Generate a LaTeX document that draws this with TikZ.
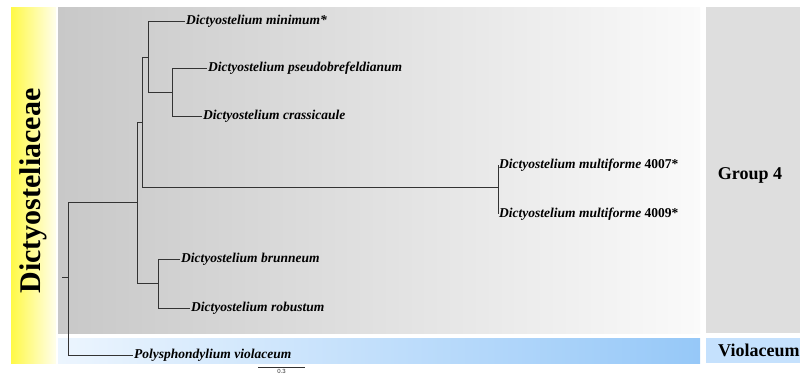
\documentclass[tikz,border=0pt]{standalone}
\usepackage{fontspec}
\setmainfont{Liberation Serif}
\newfontfamily\barfont{Liberation Sans}
\usepackage{tikz}
\usetikzlibrary{calc,positioning}
\usepackage{xcolor}
\definecolor{myyellow}{RGB}{255,249,70}
\definecolor{mycream}{RGB}{255,254,236}
\definecolor{mygray}{RGB}{200,200,200}
\definecolor{mywhite}{RGB}{250,250,250}
\definecolor{mypanel}{RGB}{222,222,222}
\definecolor{myblue}{RGB}{150,200,248}
\definecolor{mypale}{RGB}{236,245,254}
\definecolor{myviolet}{RGB}{197,225,253}

\tikzset{
  taxon/.style={anchor=west, inner sep=1pt, font=\fontsize{13.5}{16}\selectfont\bfseries\itshape},
  branch/.style={line width=0.7pt, black!80},
  group/.style={font=\fontsize{18}{21}\selectfont\bfseries},
}

\begin{document}
\begin{tikzpicture}[x=1pt,y=-1pt]
  \useasboundingbox (0,0) rectangle (800,378);

  % Bands
  \shade[left color=myyellow, right color=mycream] (11,7) rectangle (56,363);
  \shade[left color=mygray, right color=mywhite] (58,7) rectangle (700,333);
  \shade[left color=mypale, right color=myblue] (58,338) rectangle (700,363);
  \fill[mypanel] (706,7) rectangle (800,333);
  \fill[myviolet] (706,338) rectangle (800,363);

  \node[rotate=90, font=\fontsize{30}{34}\selectfont\bfseries] (fam) at (33,191) {Dictyosteliaceae};
  \node[group] (grp) at (750,175) {Group 4};
  \node[group, anchor=west, inner sep=0pt] (vio) at (718,350) {Violaceum};

  % Inner nodes
  \coordinate (stem) at (62,277);
  \coordinate (root) at (68,277);
  \coordinate (n1) at (137,202);
  \coordinate (n2) at (142,122);
  \coordinate (n3) at (148,57);
  \coordinate (n4) at (172,92);
  \coordinate (n5) at (498,187);
  \coordinate (n6) at (158,283);

  % Taxa
  \node[taxon] (mini) at (185,21) {Dictyostelium minimum*};
  \node[taxon] (pseu) at (207,68) {Dictyostelium pseudobrefeldianum};
  \node[taxon] (cras) at (202,116) {Dictyostelium crassicaule};
  \node[taxon] (m07) at (498,165) {Dictyostelium multiforme \upshape 4007*};
  \node[taxon] (m09) at (498,214) {Dictyostelium multiforme \upshape 4009*};
  \node[taxon] (brun) at (180,259) {Dictyostelium brunneum};
  \node[taxon] (robu) at (190,308) {Dictyostelium robustum};
  \node[taxon] (poly) at (133,355) {Polysphondylium violaceum};

  % Branches
  \draw[branch] (stem) -- (root);
  \draw[branch] (root) |- (n1);
  \draw[branch] (root) |- (poly.west);
  \draw[branch] (n1) |- (n2);
  \draw[branch] (n1) |- (n6);
  \draw[branch] (n2) |- (n3);
  \draw[branch] (n2) |- (n5);
  \draw[branch] (n3) |- (mini.west);
  \draw[branch] (n3) |- (n4);
  \draw[branch] (n4) |- (pseu.west);
  \draw[branch] (n4) |- (cras.west);
  \draw[branch] (n5) |- (m07.west);
  \draw[branch] (n5) |- (m09.west);
  \draw[branch] (n6) |- (brun.west);
  \draw[branch] (n6) |- (robu.west);

  % Scale bar
  \coordinate (sb0) at (258,367);
  \coordinate (sb1) at (305,367);
  \draw[branch] (sb0) -- node[below, inner sep=2pt, font=\barfont\fontsize{6}{7}\selectfont] (sbl) {0.3} (sb1);
\end{tikzpicture}
\end{document}
